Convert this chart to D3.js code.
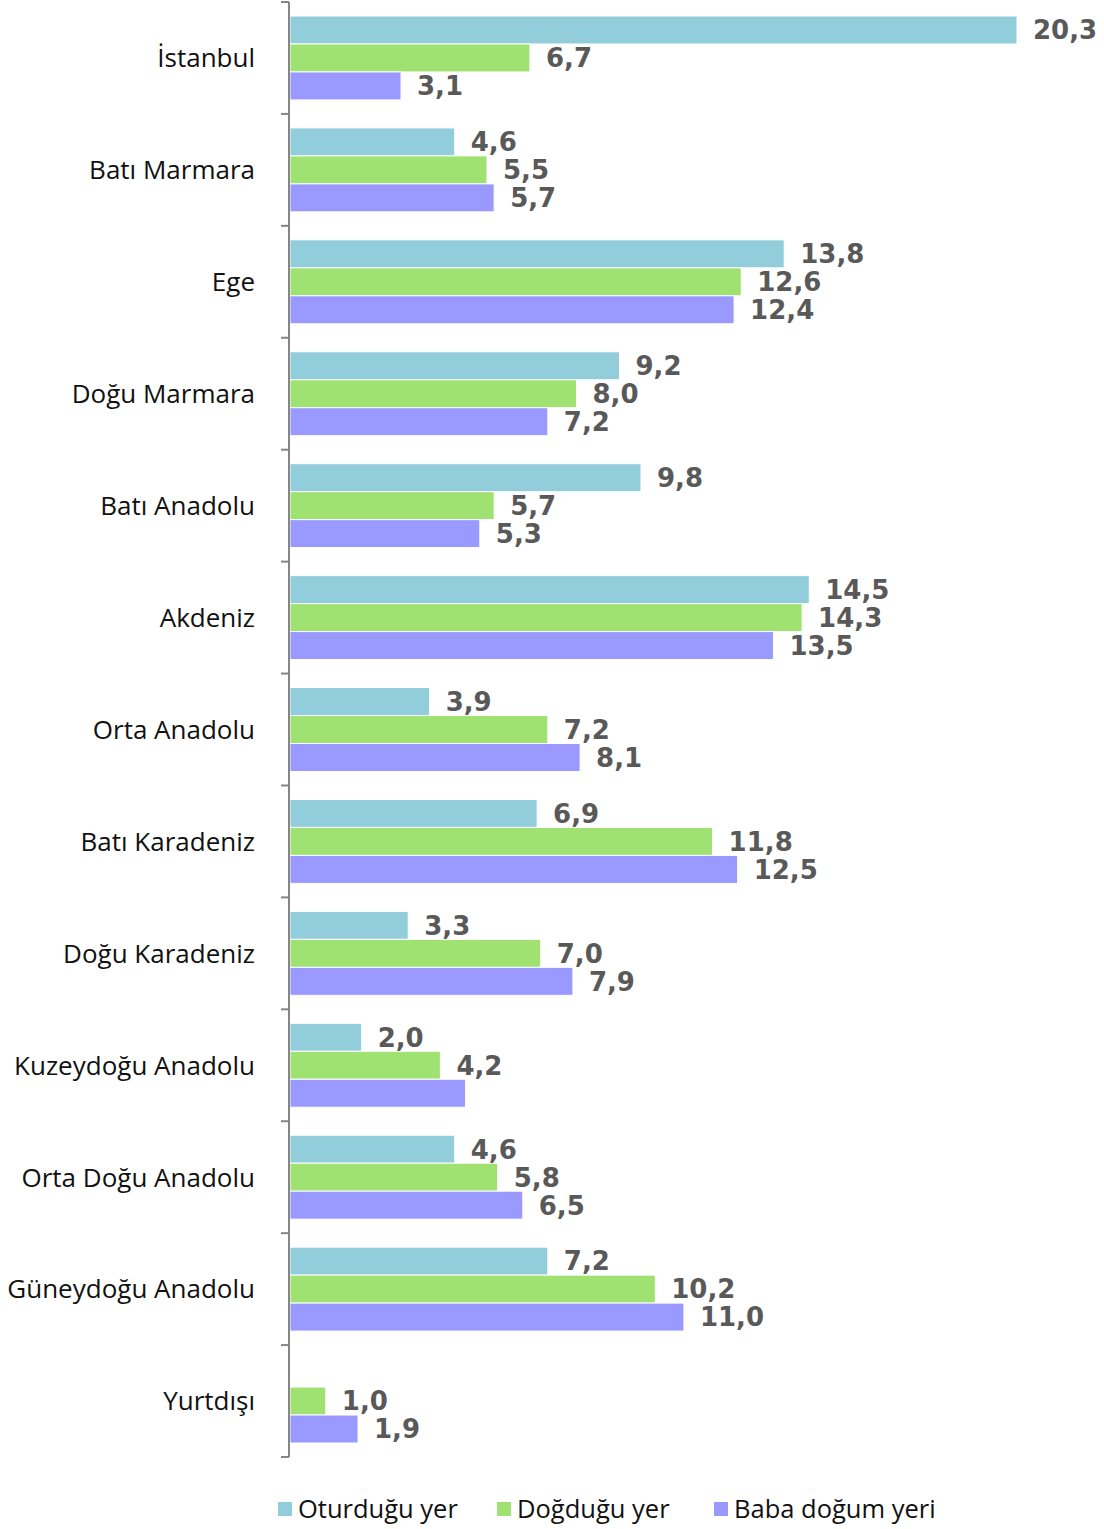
<!DOCTYPE html>
<meta charset="utf-8">
<head>
    <title>Bölgelere göre dağılım</title>
</head>
<script src="https://d3js.org/d3.v7.min.js"></script>
<style>
    body { margin: 0; background: #fff; }
    .cat { font-family: "Open Sans", sans-serif; font-size: 26px; fill: #111; }
    .val { font-family: "DejaVu Sans", sans-serif; font-weight: bold; font-size: 26px; fill: #595959; }
    .legend text { font-family: "Open Sans", sans-serif; font-size: 25.5px; fill: #111; }
</style>
<div id="viz"></div>
<script>

var regions = ['İstanbul','Batı Marmara','Ege','Doğu Marmara','Batı Anadolu','Akdeniz','Orta Anadolu',
    'Batı Karadeniz','Doğu Karadeniz','Kuzeydoğu Anadolu','Orta Doğu Anadolu','Güneydoğu Anadolu','Yurtdışı'];
var seriesNames = ['Oturduğu yer','Doğduğu yer','Baba doğum yeri'];
var oturdugu = [20.3, 4.6, 13.8, 9.2, 9.8, 14.5, 3.9, 6.9, 3.3, 2.0, 4.6, 7.2, null];
var dogdugu  = [6.7, 5.5, 12.6, 8.0, 5.7, 14.3, 7.2, 11.8, 7.0, 4.2, 5.8, 10.2, 1.0];
var baba     = [3.1, 5.7, 12.4, 7.2, 5.3, 13.5, 8.1, 12.5, 7.9, 4.9, 6.5, 11.0, 1.9];
// Kuzeydogu "baba" bar has no label in the original
var hideLabel = {'9-2': true};
var colors = ['#92cddc', '#a0e272', '#9999ff'];

var W = 1104, H = 1529;
var plotLeft = 290, plotTop = 2, plotBottom = 1457;

var root = d3.select('#viz').append('svg')
    .attr('width', W).attr('height', H);

var y = d3.scaleBand()
    .domain(regions)
    .range([plotTop, plotBottom]);

var yInner = d3.scaleBand()
    .domain([0,1,2])
    .range([14, y.bandwidth() - 14]);

var x = d3.scaleLinear()
    .domain([0, 20.3])
    .range([plotLeft, 1017]);

var series = [oturdugu, dogdugu, baba];

var rows = regions.map(function(r, i) {
    return {region: r, vals: series.map(function(s, k) { return {k: k, v: s[i], i: i}; })};
});

var groups = root.append('g').selectAll('g')
    .data(rows)
    .enter().append('g')
    .attr('transform', function(d) { return 'translate(0,' + y(d.region) + ')'; });

groups.selectAll('rect')
    .data(function(d) { return d.vals.filter(function(e) { return e.v != null; }); })
    .enter().append('rect')
    .attr('x', x(0))
    .attr('y', function(d) { return yInner(d.k); })
    .attr('width', function(d) { return x(d.v) - x(0); })
    .attr('height', yInner.bandwidth())
    .attr('fill', function(d) { return colors[d.k]; })
    .attr('stroke', '#fff')
    .attr('stroke-width', 1);

groups.selectAll('text.val')
    .data(function(d) { return d.vals.filter(function(e) { return e.v != null && !hideLabel[e.i + '-' + e.k]; }); })
    .enter().append('text')
    .attr('class', 'val')
    .attr('x', function(d) { return x(d.v) + 16; })
    .attr('y', function(d) { return yInner(d.k) + yInner.bandwidth() / 2; })
    .attr('dy', '0.36em')
    .text(function(d) { return d3.format('.1f')(d.v).replace('.', ','); });

// category axis
var axis = root.append('g')
    .attr('transform', 'translate(' + (plotLeft - 1) + ',0)');
axis.append('line')
    .attr('x1', 0).attr('x2', 0)
    .attr('y1', plotTop).attr('y2', plotBottom)
    .attr('stroke', '#868686').attr('stroke-width', 2);
var tickYs = regions.map(function(r) { return y(r); }).concat([plotBottom]);
axis.selectAll('line.tick')
    .data(tickYs)
    .enter().append('line')
    .attr('x1', -8).attr('x2', 0)
    .attr('y1', function(d) { return d; }).attr('y2', function(d) { return d; })
    .attr('stroke', '#868686').attr('stroke-width', 2);

root.append('g').selectAll('text')
    .data(regions)
    .enter().append('text')
    .attr('class', 'cat')
    .attr('x', 255)
    .attr('y', function(d) { return y(d) + y.bandwidth() / 2; })
    .attr('dy', '0.36em')
    .attr('text-anchor', 'end')
    .text(function(d) { return d; });

// legend
var legendX = [278, 497, 714];
var legend = root.append('g').attr('class', 'legend')
    .selectAll('g')
    .data(seriesNames)
    .enter().append('g')
    .attr('transform', function(d, i) { return 'translate(' + legendX[i] + ',1509)'; });
legend.append('rect')
    .attr('x', 0).attr('y', -7)
    .attr('width', 14).attr('height', 14)
    .attr('fill', function(d, i) { return colors[i]; });
legend.append('text')
    .attr('x', 20)
    .attr('dy', '0.36em')
    .text(function(d) { return d; });

</script>
